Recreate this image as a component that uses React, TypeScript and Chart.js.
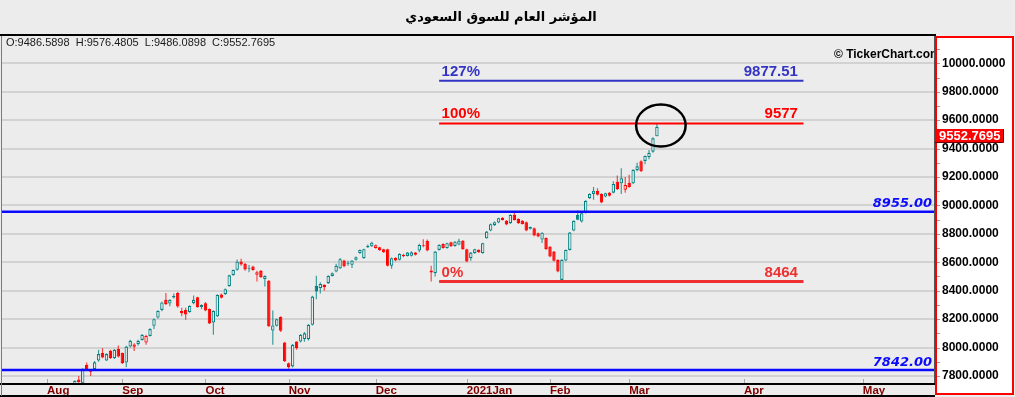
import React, { useEffect, useRef } from 'react';
import { Chart, registerables } from 'chart.js';

Chart.register(...registerables);

// ---- data (trading-day index = array position) ----
const opens = [
  7420, 7450, 7480, 7520, 7545, 7590, 7625, 7680, 7775, 7750,
  7878, 7838, 7848, 7909, 7961, 7909, 7977, 7926, 7989, 7961,
  7895, 8007, 8005, 8024, 8054, 8035, 8082, 8153, 8211, 8265,
  8336, 8310, 8352, 8383, 8258, 8265, 8250, 8312, 8354, 8285,
  8312, 8272, 8176, 8220, 8374, 8376, 8432, 8510, 8547, 8606,
  8590, 8552, 8570, 8512, 8540, 8482, 8470, 8120, 8153, 8215,
  8035, 7890, 7867, 8042, 8042, 8060, 8059, 8160, 8434, 8418,
  8441, 8453, 8504, 8535, 8558, 8612, 8589, 8582, 8617, 8664,
  8629, 8706, 8712, 8700, 8706, 8692, 8692, 8575, 8632, 8617,
  8652, 8645, 8646, 8668, 8682, 8712, 8752, 8542, 8523, 8687,
  8729, 8700, 8740, 8715, 8725, 8752, 8692, 8629, 8664, 8688,
  8665, 8769, 8823, 8861, 8879, 8912, 8893, 8875, 8935, 8905,
  8893, 8882, 8848, 8840, 8805, 8760, 8770, 8710, 8675, 8617,
  8476, 8612, 8687, 8823, 8933, 8886, 8949, 9051, 9081, 9104,
  9081, 9062, 9090, 9090, 9167, 9156, 9110, 9160, 9156, 9248,
  9310, 9313, 9340, 9378, 9486.5898,
];
const highs = [
  7460, 7490, 7530, 7560, 7600, 7640, 7690, 7770, 7800, 7855,
  7895, 7845, 7905, 7985, 7996, 7960, 7985, 7990, 8015, 7965,
  8012, 8055, 8030, 8055, 8095, 8090, 8135, 8205, 8262, 8322,
  8383, 8340, 8380, 8390, 8280, 8280, 8298, 8366, 8358, 8305,
  8320, 8275, 8262, 8375, 8380, 8415, 8512, 8550, 8620, 8625,
  8595, 8580, 8575, 8540, 8545, 8508, 8475, 8260, 8205, 8220,
  8040, 7895, 8025, 8045, 8095, 8110, 8165, 8365, 8505, 8460,
  8445, 8508, 8528, 8590, 8630, 8618, 8610, 8615, 8640, 8690,
  8696, 8725, 8745, 8725, 8710, 8696, 8696, 8633, 8636, 8663,
  8660, 8672, 8678, 8672, 8730, 8762, 8760, 8575, 8680, 8726,
  8733, 8738, 8744, 8749, 8765, 8756, 8696, 8672, 8696, 8692,
  8738, 8820, 8872, 8886, 8914, 8918, 8897, 8937, 8950, 8909,
  8897, 8886, 8852, 8844, 8809, 8812, 8774, 8714, 8679, 8621,
  8622, 8690, 8813, 8895, 8964, 8949, 9036, 9085, 9130, 9120,
  9085, 9090, 9094, 9170, 9210, 9262, 9200, 9215, 9255, 9300,
  9318, 9352, 9390, 9480, 9576.4805,
];
const lows = [
  7400, 7440, 7470, 7500, 7530, 7580, 7615, 7670, 7745, 7740,
  7840, 7800, 7840, 7900, 7925, 7905, 7920, 7920, 7930, 7885,
  7862, 8000, 7975, 8015, 8050, 8020, 8078, 8130, 8205, 8255,
  8300, 8290, 8345, 8280, 8220, 8195, 8245, 8305, 8280, 8270,
  8255, 8165, 8090, 8215, 8345, 8370, 8428, 8505, 8540, 8575,
  8540, 8530, 8540, 8465, 8490, 8430, 8145, 8020, 8148, 8110,
  7898, 7850, 7860, 7985, 8035, 8040, 8050, 8155, 8340, 8380,
  8400, 8448, 8500, 8530, 8552, 8565, 8575, 8560, 8612, 8660,
  8625, 8700, 8708, 8695, 8680, 8665, 8570, 8555, 8608, 8612,
  8635, 8640, 8640, 8648, 8670, 8705, 8678, 8464, 8500, 8682,
  8695, 8695, 8708, 8710, 8720, 8688, 8600, 8610, 8660, 8665,
  8660, 8765, 8818, 8855, 8875, 8894, 8860, 8870, 8894, 8870,
  8865, 8818, 8830, 8783, 8776, 8736, 8688, 8635, 8605, 8530,
  8464, 8607, 8682, 8818, 8895, 8880, 8944, 9046, 9040, 9070,
  9015, 9057, 9063, 9085, 9109, 9080, 9090, 9125, 9150, 9240,
  9235, 9290, 9325, 9370, 9486.0898,
];
const closes = [
  7450, 7480, 7520, 7545, 7590, 7625, 7680, 7765, 7755, 7850,
  7846, 7830, 7896, 7954, 7930, 7954, 7926, 7984, 7937, 7890,
  8007, 8047, 8022, 8047, 8089, 8082, 8130, 8200, 8258, 8317,
  8305, 8336, 8362, 8288, 8242, 8232, 8293, 8336, 8284, 8300,
  8260, 8170, 8258, 8370, 8350, 8411, 8508, 8546, 8604, 8585,
  8550, 8558, 8545, 8530, 8497, 8503, 8150, 8156, 8200, 8118,
  7903, 7862, 8019, 7996, 8089, 8100, 8160, 8359, 8394, 8448,
  8425, 8504, 8523, 8575, 8622, 8572, 8597, 8612, 8636, 8687,
  8692, 8715, 8738, 8720, 8684, 8670, 8575, 8629, 8612, 8659,
  8642, 8668, 8670, 8653, 8722, 8720, 8683, 8528, 8675, 8722,
  8700, 8734, 8712, 8745, 8752, 8692, 8605, 8668, 8692, 8670,
  8734, 8816, 8868, 8882, 8910, 8898, 8866, 8933, 8898, 8876,
  8870, 8823, 8835, 8788, 8782, 8808, 8692, 8640, 8610, 8535,
  8617, 8687, 8809, 8891, 8900, 8945, 9032, 9081, 9104, 9075,
  9020, 9086, 9068, 9151, 9114, 9191, 9144, 9130, 9250, 9275,
  9240, 9348, 9370, 9472, 9552.7695,
];

const monthTickIndex = [0, 19, 40, 61, 83, 106, 127, 147, 176, 206];
const monthLabels = ['Aug', 'Sep', 'Oct', 'Nov', 'Dec', '2021Jan', 'Feb', 'Mar', 'Apr', 'May'];
const yTickValues = [7800, 8000, 8200, 8400, 8600, 8800, 9000, 9200, 9400, 9600, 9800, 10000];

const levelValues = [8955, 7842];
const levelLabels = ['8955.00', '7842.00'];

const fibValues = [9877.51, 9577, 8464];
const fibPercents = ['127%', '100%', '0%'];
const fibValueLabels = ['9877.51', '9577', '8464'];
const fibStartIndex = 99;
const fibEndIndex = 191;

const markIndex = 155;
const markValue = 9562;

const titleText = 'المؤشر العام للسوق السعودي';

// ---- styles ----
const TEAL = '#008080';
const RED = '#ff0000';
const BG = '#ececec';
const X_MIN = -11.38;
const X_MAX = 224.22;
const Y_MIN = 7752;
const Y_MAX = 10192;
const FIB_COLORS = ['#3434c4', '#ff0000', '#ee3030'];
const FIB_WIDTHS = [2, 2, 3];

export default function App() {
  const ref = useRef<HTMLCanvasElement>(null);

  useEffect(() => {
    const canvas = ref.current;
    if (!canvas) return;
    const xs = closes.map((_, i) => i);
    const up = closes.map((c, i) => (i === 0 ? c >= opens[i] : c >= closes[i - 1]));
    const hollow = closes.map((c, i) => c >= opens[i]);
    const col = up.map((u) => (u ? TEAL : RED));
    const wickCol = up.map((u) => (u ? 'rgba(0,128,128,0.75)' : 'rgba(255,0,0,0.7)'));
    const bodyFill = closes.map((_, i) => (hollow[i] ? BG : col[i]));

    const lineDatasets: any[] = [];
    levelValues.forEach((v) => {
      lineDatasets.push({
        type: 'line',
        data: [{ x: X_MIN, y: v }, { x: X_MAX, y: v }],
        borderColor: '#0a0aff',
        borderWidth: 2.5,
        pointRadius: 0,
        clip: 0,
        order: 0,
      });
    });
    fibValues.forEach((v, k) => {
      lineDatasets.push({
        type: 'line',
        data: [{ x: fibStartIndex, y: v }, { x: fibEndIndex, y: v }],
        borderColor: FIB_COLORS[k],
        borderWidth: FIB_WIDTHS[k],
        pointRadius: 0,
        clip: 0,
        order: 0,
      });
    });

    const decor = {
      id: 'decor',
      beforeDraw(chart: any) {
        const { ctx } = chart;
        ctx.save();
        ctx.fillStyle = BG;
        ctx.fillRect(0, 0, chart.width, chart.height);
        ctx.fillStyle = '#ffffff';
        ctx.fillRect(936, 37, 77, 357);
        ctx.fillStyle = '#000';
        ctx.font = "bold 13px 'DejaVu Sans', sans-serif";
        ctx.textAlign = 'center';
        ctx.textBaseline = 'middle';
        ctx.fillText(titleText, 501, 18);
        ctx.restore();
      },
      afterDatasetsDraw(chart: any) {
        const { ctx, chartArea } = chart;
        const xS = chart.scales.x;
        const yS = chart.scales.y;
        ctx.save();
        // level labels
        ctx.font = "italic bold 13px 'DejaVu Sans', sans-serif";
        ctx.fillStyle = '#0a0aff';
        ctx.textAlign = 'right';
        ctx.textBaseline = 'alphabetic';
        levelValues.forEach((v, k) => {
          ctx.fillText(levelLabels[k], chartArea.right - 3, yS.getPixelForValue(v) - 4.5);
        });
        // fib labels
        ctx.font = "bold 15px 'Liberation Sans', Arial, sans-serif";
        fibValues.forEach((v, k) => {
          const y = yS.getPixelForValue(v) - 5;
          ctx.fillStyle = FIB_COLORS[k];
          ctx.textAlign = 'left';
          ctx.fillText(fibPercents[k], xS.getPixelForValue(fibStartIndex) + 2.5, y);
          ctx.textAlign = 'right';
          ctx.fillText(fibValueLabels[k], xS.getPixelForValue(fibEndIndex) - 5.5, y);
        });
        // ellipse mark
        const cx = xS.getPixelForValue(markIndex);
        const cy = yS.getPixelForValue(markValue);
        const rx = xS.getPixelForValue(markIndex + 6.25) - cx;
        const ry = yS.getPixelForValue(markValue - 148) - cy;
        ctx.beginPath();
        ctx.ellipse(cx, cy, rx, ry, 0, 0, Math.PI * 2);
        ctx.strokeStyle = '#000';
        ctx.lineWidth = 2.5;
        ctx.stroke();
        // watermark
        ctx.save();
        ctx.beginPath();
        ctx.rect(chartArea.left, chartArea.top, chartArea.right - chartArea.left, chartArea.bottom - chartArea.top);
        ctx.clip();
        ctx.font = "bold 12px 'Liberation Sans', Arial, sans-serif";
        ctx.fillStyle = '#000';
        ctx.textAlign = 'left';
        ctx.textBaseline = 'middle';
        ctx.fillText('© TickerChart.com', 834, 55);
        ctx.restore();
        ctx.restore();
      },
      afterDraw(chart: any) {
        const { ctx, chartArea } = chart;
        const xS = chart.scales.x;
        const yS = chart.scales.y;
        ctx.save();
        // frame
        ctx.fillStyle = '#000';
        ctx.fillRect(0, 34, 936, 2);
        ctx.fillRect(0, 383, 935, 2);
        ctx.fillRect(0, 395, 935, 2);
        ctx.fillStyle = '#7a7a7a';
        ctx.fillRect(1, 36, 1, 360);
        ctx.fillStyle = '#555';
        ctx.fillRect(934, 36, 1, 347);
        // x tick marks
        ctx.fillStyle = '#a8a8a8';
        monthTickIndex.forEach((t) => {
          ctx.fillRect(Math.round(xS.getPixelForValue(t)), 379, 1, 4);
        });
        // y minor ticks
        ctx.fillStyle = '#a0a0a0';
        for (let v = 7800; v <= 10100; v += 100) {
          const y = Math.round(yS.getPixelForValue(v));
          if (y > chartArea.top && y < chartArea.bottom) ctx.fillRect(937, y, 3, 1);
        }
        // red panel border
        ctx.strokeStyle = '#ff0000';
        ctx.lineWidth = 2;
        ctx.strokeRect(936, 37, 77, 357);
        // last price tag
        const last = closes.length - 1;
        const yc = yS.getPixelForValue(closes[last]);
        const top = Math.round(yc + 2);
        ctx.fillStyle = '#ff0000';
        ctx.fillRect(935, top, 68, 13);
        ctx.strokeStyle = '#700000';
        ctx.lineWidth = 1;
        ctx.beginPath();
        ctx.moveTo(1003.5, top);
        ctx.lineTo(1003.5, top + 13.5);
        ctx.lineTo(935, top + 13.5);
        ctx.stroke();
        ctx.fillStyle = '#fff';
        ctx.font = "bold 13px 'Liberation Sans', Arial, sans-serif";
        ctx.textAlign = 'left';
        ctx.textBaseline = 'middle';
        ctx.fillText(closes[last].toFixed(4), 939, top + 7);
        // OHLC header
        ctx.fillStyle = '#1a1a1a';
        ctx.font = "11px 'Liberation Sans', Arial, sans-serif";
        ctx.textBaseline = 'middle';
        const ohlc =
          'O:' + opens[last].toFixed(4) +
          '  H:' + highs[last].toFixed(4) +
          '  L:' + lows[last].toFixed(4) +
          '  C:' + closes[last].toFixed(4);
        ctx.fillText(ohlc, 6, 43);
        ctx.restore();
      },
    };

    const chart = new Chart(canvas, {
      type: 'bar',
      data: {
        datasets: [
          ...lineDatasets,
          {
            type: 'bar',
            data: xs.map((i) => ({ x: i, y: [opens[i], closes[i]] })),
            backgroundColor: bodyFill,
            borderColor: col,
            borderWidth: 1.1,
            borderSkipped: false,
            grouped: false,
            barThickness: 3.4,
            maxBarThickness: 3.4,
            inflateAmount: 0,
            clip: 0,
            order: 1,
          },
          {
            type: 'bar',
            data: xs.map((i) => ({ x: i, y: [lows[i], highs[i]] })),
            backgroundColor: wickCol,
            borderWidth: 0,
            grouped: false,
            barThickness: 1.2,
            maxBarThickness: 1.2,
            inflateAmount: 0,
            clip: 0,
            order: 2,
          },
        ] as any,
      },
      options: {
        animation: false,
        responsive: false,
        devicePixelRatio: 1,
        events: [],
        layout: { padding: { left: 2, top: 36, right: 0, bottom: 0 } },
        plugins: {
          legend: { display: false },
          title: { display: false },
          tooltip: { enabled: false },
        },
        scales: {
          x: {
            type: 'linear',
            min: X_MIN,
            max: X_MAX,
            offset: false,
            grid: { display: false, drawTicks: false },
            border: { display: false },
            afterBuildTicks: (s: any) => {
              s.ticks = monthTickIndex.map((v) => ({ value: v }));
            },
            afterFit: (s: any) => {
              s.height = 14;
            },
            ticks: {
              autoSkip: false,
              maxRotation: 0,
              minRotation: 0,
              align: 'start',
              padding: 1,
              color: '#800000',
              font: { family: "'Liberation Sans', Arial, sans-serif", size: 11.5, weight: 'bold' },
              callback: (_v: any, i: number) => monthLabels[i],
            },
          },
          y: {
            type: 'linear',
            position: 'right',
            min: Y_MIN,
            max: Y_MAX,
            stacked: false,
            beginAtZero: false,
            afterBuildTicks: (s: any) => {
              s.ticks = yTickValues.map((v) => ({ value: v }));
            },
            afterFit: (s: any) => {
              s.width = 80;
            },
            grid: { color: '#d2d2d2', lineWidth: 2, drawTicks: false },
            border: { display: false },
            ticks: {
              padding: 7,
              color: '#000',
              font: { family: "'Liberation Sans', Arial, sans-serif", size: 12, weight: 'bold' },
              callback: (v: any) => Number(v).toFixed(4),
            },
          },
        },
      } as any,
      plugins: [decor],
    });

    return () => {
      chart.destroy();
    };
  }, []);

  return (
    <div style={{ position: 'fixed', left: 0, top: 0, width: 1015, height: 397 }}>
      <canvas ref={ref} width={1015} height={397} style={{ display: 'block', width: 1015, height: 397 }} />
    </div>
  );
}
